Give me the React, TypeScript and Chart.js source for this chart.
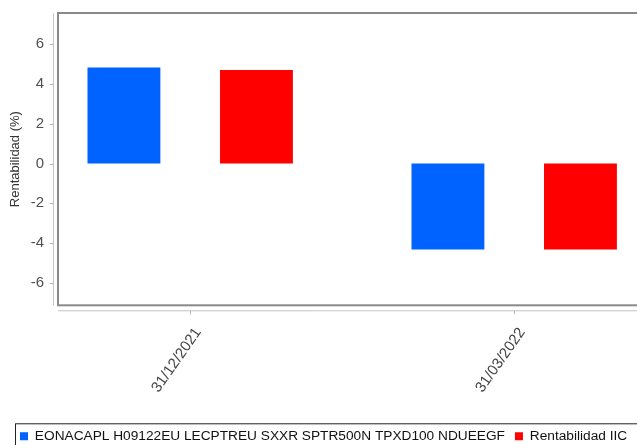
import React, { useEffect, useRef } from "react";
import { Chart, registerables } from "chart.js";

Chart.register(...registerables);

const categories = ["31/12/2021", "31/03/2022"];
const seriesNames = [
  "EONACAPL H09122EU LECPTREU SXXR SPTR500N TPXD100 NDUEEGF",
  "Rentabilidad IIC",
];
const benchmarkValues = [4.82, -4.32];
const fundValues = [4.7, -4.32];
const yTicks = [-6, -4, -2, 0, 2, 4, 6];

const FONT = "'Liberation Sans', Arial, sans-serif";

const framePlugin = {
  id: "frame",
  afterDraw(chart: any) {
    const { ctx, chartArea } = chart;
    const { left, right, top, bottom } = chartArea;
    const xs = chart.scales.x;
    const ys = chart.scales.y;
    ctx.save();
    // plot frame
    ctx.strokeStyle = "#8a8a8a";
    ctx.lineWidth = 2;
    ctx.strokeRect(left, top, right - left, bottom - top);
    // offset axis lines
    ctx.strokeStyle = "#c4c4c4";
    ctx.lineWidth = 1;
    ctx.beginPath();
    ctx.moveTo(left - 4.5, top);
    ctx.lineTo(left - 4.5, bottom);
    ctx.moveTo(left, bottom + 5.5);
    ctx.lineTo(right, bottom + 5.5);
    ctx.stroke();
    // tick marks
    ctx.strokeStyle = "#b0b0b0";
    ctx.beginPath();
    ys.ticks.forEach((t: any) => {
      const y = Math.round(ys.getPixelForValue(t.value)) + 0.5;
      ctx.moveTo(left - 8, y);
      ctx.lineTo(left - 4.5, y);
    });
    xs.ticks.forEach((t: any) => {
      const x = Math.round(xs.getPixelForValue(t.value)) + 0.5;
      ctx.moveTo(x, bottom + 5.5);
      ctx.lineTo(x, bottom + 9);
    });
    ctx.stroke();
    // legend border
    const lg = chart.legend;
    if (lg) {
      ctx.strokeStyle = "#222";
      ctx.lineWidth = 1;
      ctx.strokeRect(lg.left + 5.5, lg.top + 4.5, lg.width + 40, lg.height);
    }
    ctx.restore();
  },
};

export default function App() {
  const ref = useRef<HTMLCanvasElement | null>(null);
  useEffect(() => {
    if (!ref.current) return;
    const chart = new Chart(ref.current, {
      type: "bar",
      data: {
        datasets: [
          {
            label: seriesNames[0],
            data: benchmarkValues.map((v, i) => ({ x: i, y: v })),
            backgroundColor: "#0062ff",
            borderWidth: 0,
          },
          {
            label: seriesNames[1],
            data: fundValues.map((v, i) => ({ x: i, y: v })),
            backgroundColor: "#ff0000",
            borderWidth: 0,
          },
        ],
      },
      options: {
        responsive: false,
        animation: false,
        devicePixelRatio: 1,
        layout: { padding: { left: 10, right: 14, top: 13, bottom: 0 } },
        datasets: {
          bar: { categoryPercentage: 0.818, barPercentage: 0.55 },
        },
        scales: {
          x: {
            type: "linear",
            offset: false,
            min: -0.408,
            max: 1.4068,
            afterBuildTicks: (scale: any) => {
              scale.ticks = categories.map((_, i) => ({ value: i }));
            },
            afterFit: (scale: any) => {
              scale.height = 114;
            },
            grid: { display: false, drawTicks: false },
            border: { display: false },
            ticks: {
              autoSkip: false,
              minRotation: 55,
              maxRotation: 55,
              padding: 19,
              labelOffset: 8,
              color: "#444",
              font: { family: FONT, size: 15 },
              callback: (v: any) => categories[v] ?? "",
            },
          },
          y: {
            min: -7.12,
            max: 7.56,
            afterBuildTicks: (scale: any) => {
              scale.ticks = yTicks.map((v) => ({ value: v }));
            },
            afterFit: (scale: any) => {
              scale.width = 48;
            },
            grid: { display: false, drawTicks: true, tickLength: 14, tickColor: "rgba(0,0,0,0)" },
            border: { display: false },
            ticks: {
              padding: 0,
              color: "#505050",
              font: { family: FONT, size: 15 },
            },
            title: {
              display: true,
              text: "Rentabilidad (%)",
              color: "#333",
              font: { family: FONT, size: 13 },
              padding: { top: -2, bottom: 0 },
            },
          },
        },
        plugins: {
          legend: {
            position: "bottom",
            align: "start",
            labels: {
              boxWidth: 8,
              boxHeight: 8,
              padding: 10,
              color: "#111",
              font: { family: FONT, size: 13.7 },
            },
          },
          tooltip: { enabled: false },
        },
      },
      plugins: [framePlugin],
    });
    return () => chart.destroy();
  }, []);
  return (
    <div
      style={{
        position: "fixed",
        left: 0,
        top: 0,
        width: 637,
        height: 445,
        overflow: "hidden",
        background: "#fff",
      }}
    >
      <canvas ref={ref} width={660} height={453} style={{ display: "block" }} />
    </div>
  );
}
